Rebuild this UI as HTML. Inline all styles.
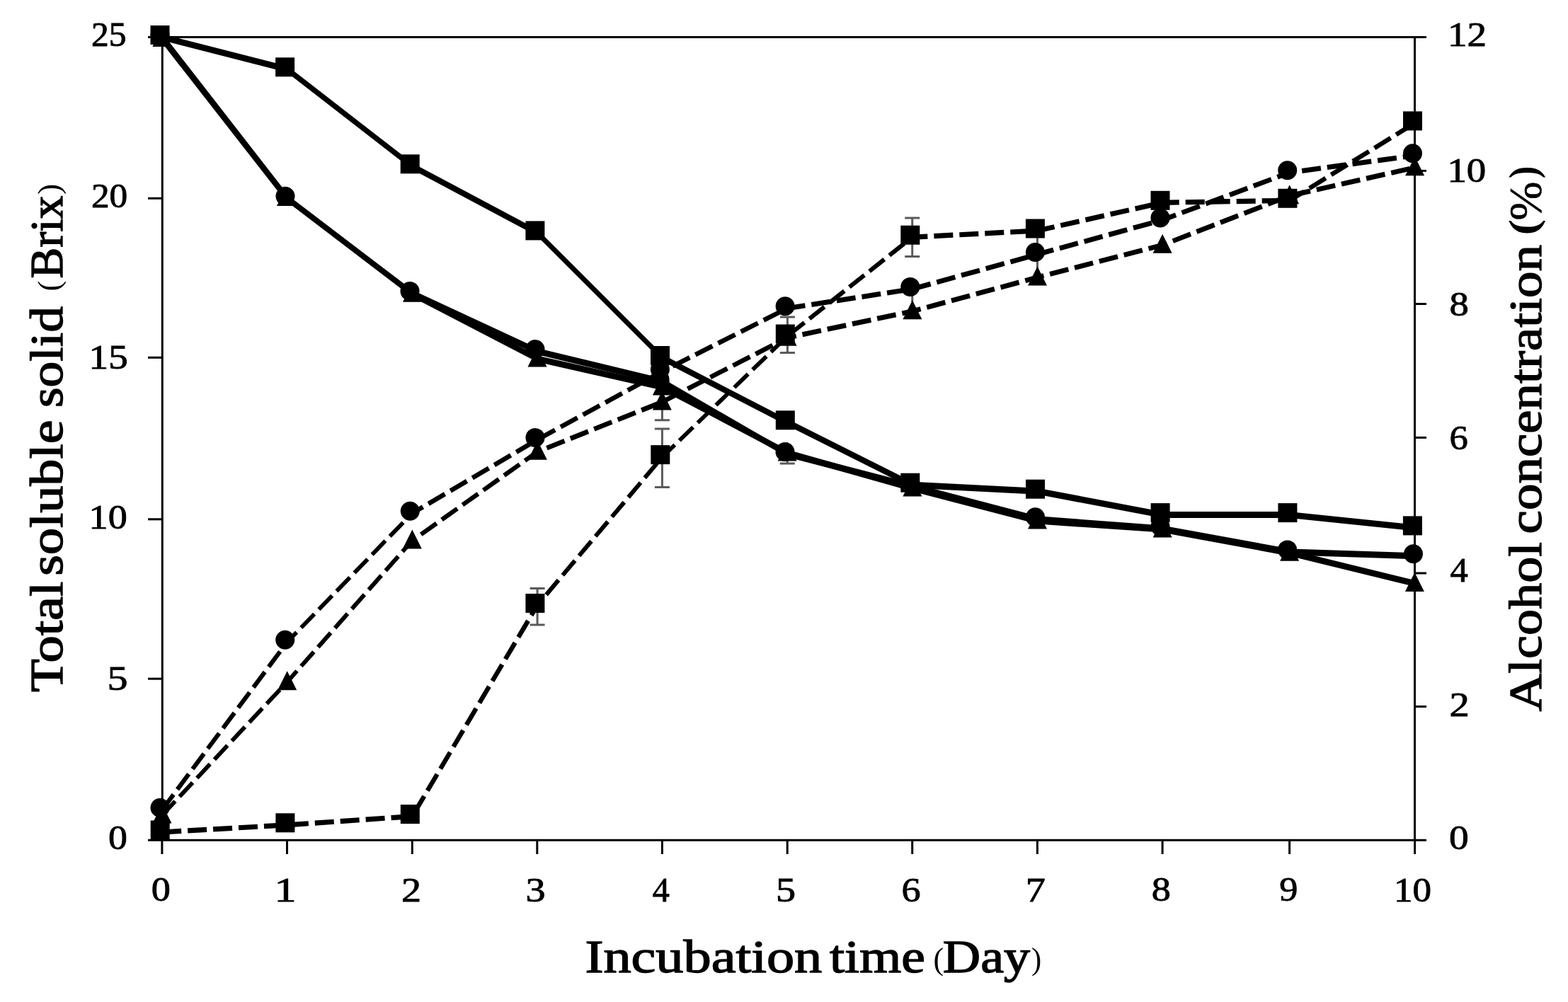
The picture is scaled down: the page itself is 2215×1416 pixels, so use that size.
<!DOCTYPE html>
<html><head><meta charset="utf-8"><title>Total soluble solid and alcohol concentration vs incubation time</title>
<style>
html,body{margin:0;padding:0;background:#fff;overflow:hidden;}
svg{display:block;}
text{font-family:"Liberation Serif","Times New Roman",serif;fill:#000;}
</style></head><body>
<svg width="2215" height="1416" viewBox="0 0 2215 1416">
<rect width="2215" height="1416" fill="#fff"/>
<g stroke="#000" stroke-width="3" fill="none">
<rect x="229.3" y="52.5" width="1769.2" height="1134.8"/>
<line x1="209" y1="1187.3" x2="229.3" y2="1187.3"/>
<line x1="209" y1="959.2" x2="229.3" y2="959.2"/>
<line x1="209" y1="733.8" x2="229.3" y2="733.8"/>
<line x1="209" y1="505.3" x2="229.3" y2="505.3"/>
<line x1="209" y1="280.3" x2="229.3" y2="280.3"/>
<line x1="209" y1="52.5" x2="229.3" y2="52.5"/>
<line x1="1998.5" y1="1187.3" x2="2015" y2="1187.3"/>
<line x1="1998.5" y1="998.5" x2="2015" y2="998.5"/>
<line x1="1998.5" y1="810.0" x2="2015" y2="810.0"/>
<line x1="1998.5" y1="618.4" x2="2015" y2="618.4"/>
<line x1="1998.5" y1="429.5" x2="2015" y2="429.5"/>
<line x1="1998.5" y1="241.4" x2="2015" y2="241.4"/>
<line x1="1998.5" y1="52.5" x2="2015" y2="52.5"/>
<line x1="228.9" y1="1187.3" x2="228.9" y2="1207"/>
<line x1="405.5" y1="1187.3" x2="405.5" y2="1207"/>
<line x1="582.3" y1="1187.3" x2="582.3" y2="1207"/>
<line x1="758.8" y1="1187.3" x2="758.8" y2="1207"/>
<line x1="935.4" y1="1187.3" x2="935.4" y2="1207"/>
<line x1="1112.2" y1="1187.3" x2="1112.2" y2="1207"/>
<line x1="1288.7" y1="1187.3" x2="1288.7" y2="1207"/>
<line x1="1465.4" y1="1187.3" x2="1465.4" y2="1207"/>
<line x1="1642.1" y1="1187.3" x2="1642.1" y2="1207"/>
<line x1="1821.6" y1="1187.3" x2="1821.6" y2="1207"/>
<line x1="1998.6" y1="1187.3" x2="1998.6" y2="1207"/>
</g>
<g stroke="#5a5a5a" stroke-width="3" fill="none">
<path d="M759.1,831.4V883.0M748.6,831.4H769.6M748.6,883.0H769.6"/>
<path d="M935.4,606.1V688.5M924.9,606.1H945.9M924.9,688.5H945.9"/>
<path d="M935.4,539.3V593.7M924.9,539.3H945.9M924.9,593.7H945.9"/>
<path d="M1112.4,448.0V498.4M1101.9,448.0H1122.9M1101.9,498.4H1122.9"/>
<path d="M1288.7,307.9V362.5M1278.2,307.9H1299.2M1278.2,362.5H1299.2"/>
<path d="M1288.7,410.0V427.0"/>
<path d="M1465.4,334.0V382.0"/>
<path d="M1112.2,630.0V655.0"/>
<path d="M1101.7,655H1122.7"/>
</g>
<g stroke="#000" fill="none">
<line x1="229.0" y1="52.5" x2="405.6" y2="97.8" stroke-width="8.79" stroke-linecap="round"/>
<line x1="405.6" y1="97.8" x2="582.2" y2="234.8" stroke-width="7.58" stroke-linecap="round"/>
<line x1="582.2" y1="234.8" x2="758.9" y2="328.9" stroke-width="8.21" stroke-linecap="round"/>
<line x1="758.9" y1="328.9" x2="935.5" y2="505.5" stroke-width="7.02" stroke-linecap="round"/>
<line x1="935.5" y1="505.5" x2="1112.3" y2="596.8" stroke-width="8.25" stroke-linecap="round"/>
<line x1="1112.3" y1="596.8" x2="1288.8" y2="685.2" stroke-width="8.28" stroke-linecap="round"/>
<line x1="1288.8" y1="685.2" x2="1465.5" y2="694.2" stroke-width="8.99" stroke-linecap="round"/>
<line x1="1465.5" y1="694.2" x2="1642.1" y2="727.6" stroke-width="8.88" stroke-linecap="round"/>
<line x1="1642.1" y1="727.6" x2="1821.9" y2="727.6" stroke-width="9.00" stroke-linecap="round"/>
<line x1="1821.9" y1="727.6" x2="1998.4" y2="745.9" stroke-width="8.96" stroke-linecap="round"/>
</g>
<g fill="#000">
<rect x="212.5" y="36.0" width="27.0" height="27.0"/>
<rect x="389.1" y="81.3" width="27.0" height="27.0"/>
<rect x="565.7" y="218.3" width="27.0" height="27.0"/>
<rect x="742.4" y="312.4" width="27.0" height="27.0"/>
<rect x="919.0" y="489.0" width="27.0" height="27.0"/>
<rect x="1095.8" y="580.3" width="27.0" height="27.0"/>
<rect x="1272.3" y="668.7" width="27.0" height="27.0"/>
<rect x="1449.0" y="677.7" width="27.0" height="27.0"/>
<rect x="1625.6" y="711.1" width="27.0" height="27.0"/>
<rect x="1805.4" y="711.1" width="27.0" height="27.0"/>
<rect x="1981.9" y="729.4" width="27.0" height="27.0"/>
</g>
<g stroke="#000" fill="none">
<line x1="229.0" y1="52.5" x2="406.0" y2="280.3" stroke-width="7.58" stroke-linecap="round"/>
<line x1="406.0" y1="280.3" x2="582.0" y2="414.4" stroke-width="7.62" stroke-linecap="round"/>
<line x1="582.0" y1="414.4" x2="759.0" y2="496.5" stroke-width="8.37" stroke-linecap="round"/>
<line x1="759.0" y1="496.5" x2="935.0" y2="539.0" stroke-width="8.81" stroke-linecap="round"/>
<line x1="935.0" y1="539.0" x2="1112.0" y2="641.5" stroke-width="8.09" stroke-linecap="round"/>
<line x1="1112.0" y1="641.5" x2="1289.0" y2="687.5" stroke-width="8.78" stroke-linecap="round"/>
<line x1="1289.0" y1="687.5" x2="1465.5" y2="733.8" stroke-width="8.78" stroke-linecap="round"/>
<line x1="1465.5" y1="733.8" x2="1642.0" y2="747.0" stroke-width="8.98" stroke-linecap="round"/>
<line x1="1642.0" y1="747.0" x2="1821.6" y2="779.9" stroke-width="8.89" stroke-linecap="round"/>
<line x1="1821.6" y1="779.9" x2="1999.5" y2="785.8" stroke-width="9.00" stroke-linecap="round"/>
</g>
<g fill="#000">
<circle cx="226.0" cy="49.5" r="13.5"/>
<circle cx="403.0" cy="277.3" r="13.5"/>
<circle cx="579.0" cy="411.4" r="13.5"/>
<circle cx="756.0" cy="493.5" r="13.5"/>
<circle cx="932.0" cy="536.0" r="13.5"/>
<circle cx="1109.0" cy="638.5" r="13.5"/>
<circle cx="1286.0" cy="684.5" r="13.5"/>
<circle cx="1462.5" cy="730.8" r="13.5"/>
<circle cx="1639.0" cy="744.0" r="13.5"/>
<circle cx="1818.6" cy="776.9" r="13.5"/>
<circle cx="1996.5" cy="782.8" r="13.5"/>
</g>
<g stroke="#000" fill="none">
<line x1="228.9" y1="54.5" x2="404.5" y2="279.5" stroke-width="7.57" stroke-linecap="round"/>
<line x1="404.5" y1="279.5" x2="582.5" y2="415.3" stroke-width="7.61" stroke-linecap="round"/>
<line x1="582.5" y1="415.3" x2="759.0" y2="507.0" stroke-width="8.24" stroke-linecap="round"/>
<line x1="759.0" y1="507.0" x2="935.4" y2="547.0" stroke-width="8.83" stroke-linecap="round"/>
<line x1="935.4" y1="547.0" x2="1112.2" y2="640.0" stroke-width="8.22" stroke-linecap="round"/>
<line x1="1112.2" y1="640.0" x2="1288.9" y2="690.1" stroke-width="8.74" stroke-linecap="round"/>
<line x1="1288.9" y1="690.1" x2="1465.5" y2="736.1" stroke-width="8.78" stroke-linecap="round"/>
<line x1="1465.5" y1="736.1" x2="1642.2" y2="748.1" stroke-width="8.98" stroke-linecap="round"/>
<line x1="1642.2" y1="748.1" x2="1821.6" y2="781.3" stroke-width="8.89" stroke-linecap="round"/>
<line x1="1821.6" y1="781.3" x2="1998.4" y2="824.5" stroke-width="8.81" stroke-linecap="round"/>
</g>
<g fill="#000">
<polygon points="228.9,39.0 242.4,66.0 215.4,66.0"/>
<polygon points="404.5,264.0 418.0,291.0 391.0,291.0"/>
<polygon points="582.5,399.8 596.0,426.8 569.0,426.8"/>
<polygon points="759.0,491.5 772.5,518.5 745.5,518.5"/>
<polygon points="935.4,531.5 948.9,558.5 921.9,558.5"/>
<polygon points="1112.2,624.5 1125.7,651.5 1098.7,651.5"/>
<polygon points="1288.9,674.6 1302.4,701.6 1275.4,701.6"/>
<polygon points="1465.5,720.6 1479.0,747.6 1452.0,747.6"/>
<polygon points="1642.2,732.6 1655.7,759.6 1628.7,759.6"/>
<polygon points="1821.6,765.8 1835.1,792.8 1808.1,792.8"/>
<polygon points="1998.4,809.0 2011.9,836.0 1984.9,836.0"/>
</g>
<g stroke="#000" fill="none">
<line x1="229.2" y1="1176.0" x2="405.9" y2="1165.8" stroke-width="7.19" stroke-dasharray="27.0 9.0" stroke-dashoffset="0.0"/>
<line x1="405.9" y1="1165.8" x2="582.3" y2="1153.6" stroke-width="7.19" stroke-dasharray="27.0 9.0" stroke-dashoffset="33.0"/>
<line x1="582.3" y1="1153.6" x2="758.9" y2="855.5" stroke-width="6.51" stroke-dasharray="27.0 9.0" stroke-dashoffset="29.8"/>
<line x1="758.9" y1="855.5" x2="935.8" y2="645.6" stroke-width="6.04" stroke-dasharray="27.0 9.0" stroke-dashoffset="16.3"/>
<line x1="935.8" y1="645.6" x2="1112.3" y2="475.0" stroke-width="5.82" stroke-dasharray="27.0 9.0" stroke-dashoffset="2.8"/>
<line x1="1112.3" y1="475.0" x2="1288.8" y2="335.2" stroke-width="6.14" stroke-dasharray="27.0 9.0" stroke-dashoffset="32.3"/>
<line x1="1288.8" y1="335.2" x2="1465.4" y2="326.0" stroke-width="7.19" stroke-dasharray="27.0 9.0" stroke-dashoffset="5.4"/>
<line x1="1465.4" y1="326.0" x2="1642.0" y2="286.3" stroke-width="7.08" stroke-dasharray="27.0 9.0" stroke-dashoffset="2.3"/>
<line x1="1642.0" y1="286.3" x2="1821.9" y2="283.3" stroke-width="7.20" stroke-dasharray="27.0 9.0" stroke-dashoffset="3.3"/>
<line x1="1821.9" y1="283.3" x2="1998.5" y2="173.9" stroke-width="6.46" stroke-dasharray="27.0 9.0" stroke-dashoffset="3.2"/>
</g>
<g fill="#000">
<rect x="212.7" y="1159.5" width="27.0" height="27.0"/>
<rect x="389.4" y="1149.3" width="27.0" height="27.0"/>
<rect x="565.8" y="1137.1" width="27.0" height="27.0"/>
<rect x="742.4" y="839.0" width="27.0" height="27.0"/>
<rect x="919.3" y="629.1" width="27.0" height="27.0"/>
<rect x="1095.8" y="458.5" width="27.0" height="27.0"/>
<rect x="1272.3" y="318.7" width="27.0" height="27.0"/>
<rect x="1448.9" y="309.5" width="27.0" height="27.0"/>
<rect x="1625.5" y="269.8" width="27.0" height="27.0"/>
<rect x="1805.4" y="266.8" width="27.0" height="27.0"/>
<rect x="1982.0" y="157.4" width="27.0" height="27.0"/>
</g>
<g stroke="#000" fill="none">
<line x1="229.0" y1="1144.5" x2="405.7" y2="907.3" stroke-width="6.23" stroke-dasharray="27.0 9.0" stroke-dashoffset="0.0"/>
<line x1="405.7" y1="907.3" x2="582.3" y2="725.3" stroke-width="5.81" stroke-dasharray="27.0 9.0" stroke-dashoffset="7.8"/>
<line x1="582.3" y1="725.3" x2="759.0" y2="621.4" stroke-width="6.52" stroke-dasharray="27.0 9.0" stroke-dashoffset="9.4"/>
<line x1="759.0" y1="621.4" x2="935.4" y2="525.0" stroke-width="6.60" stroke-dasharray="27.0 9.0" stroke-dashoffset="34.4"/>
<line x1="935.4" y1="525.0" x2="1112.1" y2="435.7" stroke-width="6.67" stroke-dasharray="27.0 9.0" stroke-dashoffset="19.4"/>
<line x1="1112.1" y1="435.7" x2="1288.8" y2="408.4" stroke-width="7.14" stroke-dasharray="27.0 9.0" stroke-dashoffset="1.4"/>
<line x1="1288.8" y1="408.4" x2="1465.4" y2="359.5" stroke-width="7.02" stroke-dasharray="27.0 9.0" stroke-dashoffset="0.2"/>
<line x1="1465.4" y1="359.5" x2="1642.0" y2="310.9" stroke-width="7.02" stroke-dasharray="27.0 9.0" stroke-dashoffset="3.4"/>
<line x1="1642.0" y1="310.9" x2="1821.7" y2="243.8" stroke-width="6.89" stroke-dasharray="27.0 9.0" stroke-dashoffset="6.6"/>
<line x1="1821.7" y1="243.8" x2="1998.5" y2="219.7" stroke-width="7.15" stroke-dasharray="27.0 9.0" stroke-dashoffset="18.4"/>
</g>
<g fill="#000">
<circle cx="226.0" cy="1141.5" r="13.5"/>
<circle cx="402.7" cy="904.3" r="13.5"/>
<circle cx="579.3" cy="722.3" r="13.5"/>
<circle cx="756.0" cy="618.4" r="13.5"/>
<circle cx="932.4" cy="522.0" r="13.5"/>
<circle cx="1109.1" cy="432.7" r="13.5"/>
<circle cx="1285.8" cy="405.4" r="13.5"/>
<circle cx="1462.4" cy="356.5" r="13.5"/>
<circle cx="1639.0" cy="307.9" r="13.5"/>
<circle cx="1818.7" cy="240.8" r="13.5"/>
<circle cx="1995.5" cy="216.7" r="13.5"/>
</g>
<g stroke="#000" fill="none">
<line x1="229.0" y1="1152.0" x2="405.7" y2="963.7" stroke-width="5.87" stroke-dasharray="27.0 9.0" stroke-dashoffset="0.0"/>
<line x1="405.7" y1="963.7" x2="582.3" y2="764.0" stroke-width="5.97" stroke-dasharray="27.0 9.0" stroke-dashoffset="6.2"/>
<line x1="582.3" y1="764.0" x2="759.4" y2="638.3" stroke-width="6.29" stroke-dasharray="27.0 9.0" stroke-dashoffset="20.8"/>
<line x1="759.4" y1="638.3" x2="935.3" y2="568.1" stroke-width="6.85" stroke-dasharray="27.0 9.0" stroke-dashoffset="22.0"/>
<line x1="935.3" y1="568.1" x2="1112.0" y2="477.3" stroke-width="6.66" stroke-dasharray="27.0 9.0" stroke-dashoffset="31.4"/>
<line x1="1112.0" y1="477.3" x2="1288.9" y2="439.8" stroke-width="7.09" stroke-dasharray="27.0 9.0" stroke-dashoffset="14.0"/>
<line x1="1288.9" y1="439.8" x2="1465.5" y2="392.0" stroke-width="7.03" stroke-dasharray="27.0 9.0" stroke-dashoffset="14.9"/>
<line x1="1465.5" y1="392.0" x2="1642.1" y2="346.3" stroke-width="7.04" stroke-dasharray="27.0 9.0" stroke-dashoffset="17.8"/>
<line x1="1642.1" y1="346.3" x2="1821.6" y2="276.7" stroke-width="6.87" stroke-dasharray="27.0 9.0" stroke-dashoffset="20.2"/>
<line x1="1821.6" y1="276.7" x2="1998.6" y2="236.8" stroke-width="7.08" stroke-dasharray="27.0 9.0" stroke-dashoffset="32.8"/>
</g>
<g fill="#000">
<polygon points="229.0,1136.5 242.5,1163.5 215.5,1163.5"/>
<polygon points="405.7,948.2 419.2,975.2 392.2,975.2"/>
<polygon points="582.3,748.5 595.8,775.5 568.8,775.5"/>
<polygon points="759.4,622.8 772.9,649.8 745.9,649.8"/>
<polygon points="935.3,552.6 948.8,579.6 921.8,579.6"/>
<polygon points="1112.0,461.8 1125.5,488.8 1098.5,488.8"/>
<polygon points="1288.9,424.3 1302.4,451.3 1275.4,451.3"/>
<polygon points="1465.5,376.5 1479.0,403.5 1452.0,403.5"/>
<polygon points="1642.1,330.8 1655.6,357.8 1628.6,357.8"/>
<polygon points="1821.6,261.2 1835.1,288.2 1808.1,288.2"/>
<polygon points="1998.6,221.3 2012.1,248.3 1985.1,248.3"/>
</g>
<g font-size="49.2" stroke="#000" stroke-width="0.9">
<text x="153.0" y="1199.9" textLength="26.9" lengthAdjust="spacingAndGlyphs">0</text>
<text x="151.5" y="975.1" textLength="29.1" lengthAdjust="spacingAndGlyphs">5</text>
<text x="125.6" y="746.7" textLength="54.1" lengthAdjust="spacingAndGlyphs">10</text>
<text x="125.6" y="521.4" textLength="55.1" lengthAdjust="spacingAndGlyphs">15</text>
<text x="128.9" y="292.8" textLength="51.3" lengthAdjust="spacingAndGlyphs">20</text>
<text x="129.0" y="65.4" textLength="49.5" lengthAdjust="spacingAndGlyphs">25</text>
<text x="2047.0" y="1200.0" textLength="27.7" lengthAdjust="spacingAndGlyphs">0</text>
<text x="2047.4" y="1011.5" textLength="28.3" lengthAdjust="spacingAndGlyphs">2</text>
<text x="2048.4" y="822.4" textLength="25.3" lengthAdjust="spacingAndGlyphs">4</text>
<text x="2047.4" y="634.6" textLength="26.3" lengthAdjust="spacingAndGlyphs">6</text>
<text x="2047.4" y="445.5" textLength="27.3" lengthAdjust="spacingAndGlyphs">8</text>
<text x="2044.4" y="256.7" textLength="54.9" lengthAdjust="spacingAndGlyphs">10</text>
<text x="2045.0" y="64.8" textLength="55.1" lengthAdjust="spacingAndGlyphs">12</text>
<text x="213.8" y="1273.1" textLength="27.1" lengthAdjust="spacingAndGlyphs">0</text>
<text x="387.6" y="1273.6" textLength="31.1" lengthAdjust="spacingAndGlyphs">1</text>
<text x="567.1" y="1273.6" textLength="28.1" lengthAdjust="spacingAndGlyphs">2</text>
<text x="742.6" y="1273.6" textLength="28.1" lengthAdjust="spacingAndGlyphs">3</text>
<text x="921.7" y="1273.6" textLength="24.1" lengthAdjust="spacingAndGlyphs">4</text>
<text x="1096.1" y="1273.6" textLength="28.1" lengthAdjust="spacingAndGlyphs">5</text>
<text x="1273.6" y="1273.6" textLength="27.1" lengthAdjust="spacingAndGlyphs">6</text>
<text x="1448.7" y="1273.6" textLength="28.1" lengthAdjust="spacingAndGlyphs">7</text>
<text x="1626.8" y="1273.1" textLength="27.1" lengthAdjust="spacingAndGlyphs">8</text>
<text x="1807.3" y="1273.1" textLength="26.1" lengthAdjust="spacingAndGlyphs">9</text>
<text x="1968.9" y="1273.6" textLength="53.1" lengthAdjust="spacingAndGlyphs">10</text>
</g>
<g transform="translate(0,1374.0)">
<text x="826.4" y="0.0" font-size="66.5" stroke="#000" stroke-width="1.4" textLength="334.8" lengthAdjust="spacingAndGlyphs">Incubation</text>
<text x="1172.0" y="0.0" font-size="66.5" stroke="#000" stroke-width="1.4" textLength="134.8" lengthAdjust="spacingAndGlyphs">time</text>
<text x="1318.4" y="-4.0" font-size="44" textLength="14.6" lengthAdjust="spacingAndGlyphs">(</text>
<text x="1331.8" y="0.0" font-size="66.5" stroke="#000" stroke-width="1.4" textLength="123.2" lengthAdjust="spacingAndGlyphs">Day</text>
<text x="1457.0" y="-4.0" font-size="44" textLength="14.2" lengthAdjust="spacingAndGlyphs">)</text>
</g>
<g transform="translate(87.5,978) rotate(-90)">
<text x="0.0" y="0.0" font-size="66.5" stroke="#000" stroke-width="1.4" textLength="156.4" lengthAdjust="spacingAndGlyphs">Total</text>
<text x="164.2" y="0.0" font-size="66.5" stroke="#000" stroke-width="1.4" textLength="220.4" lengthAdjust="spacingAndGlyphs">soluble</text>
<text x="402.0" y="0.0" font-size="66.5" stroke="#000" stroke-width="1.4" textLength="143.0" lengthAdjust="spacingAndGlyphs">solid</text>
<text x="566.6" y="-4.0" font-size="44" textLength="14.8" lengthAdjust="spacingAndGlyphs">(</text>
<text x="584.6" y="0.0" font-size="66.5" stroke="#000" stroke-width="1.4" textLength="116.8" lengthAdjust="spacingAndGlyphs">Brix</text>
<text x="703.0" y="-4.0" font-size="44" textLength="15.2" lengthAdjust="spacingAndGlyphs">)</text>
</g>
<g transform="translate(2177,1005.9) rotate(-90)">
<text x="0.5" y="0.0" font-size="66.5" stroke="#000" stroke-width="1.4" textLength="239.4" lengthAdjust="spacingAndGlyphs">Alcohol</text>
<text x="251.5" y="0.0" font-size="66.5" stroke="#000" stroke-width="1.4" textLength="408.4" lengthAdjust="spacingAndGlyphs">concentration</text>
<text x="673.5" y="-6.5" font-size="57" font-weight="bold" textLength="22.6" lengthAdjust="spacingAndGlyphs">(</text>
<text x="694.5" y="0.0" font-size="66.5" stroke="#000" stroke-width="0.6" textLength="55.0" lengthAdjust="spacingAndGlyphs">%</text>
<text x="753.7" y="-6.5" font-size="57" font-weight="bold" textLength="17.6" lengthAdjust="spacingAndGlyphs">)</text>
</g>
</svg>
</body></html>
